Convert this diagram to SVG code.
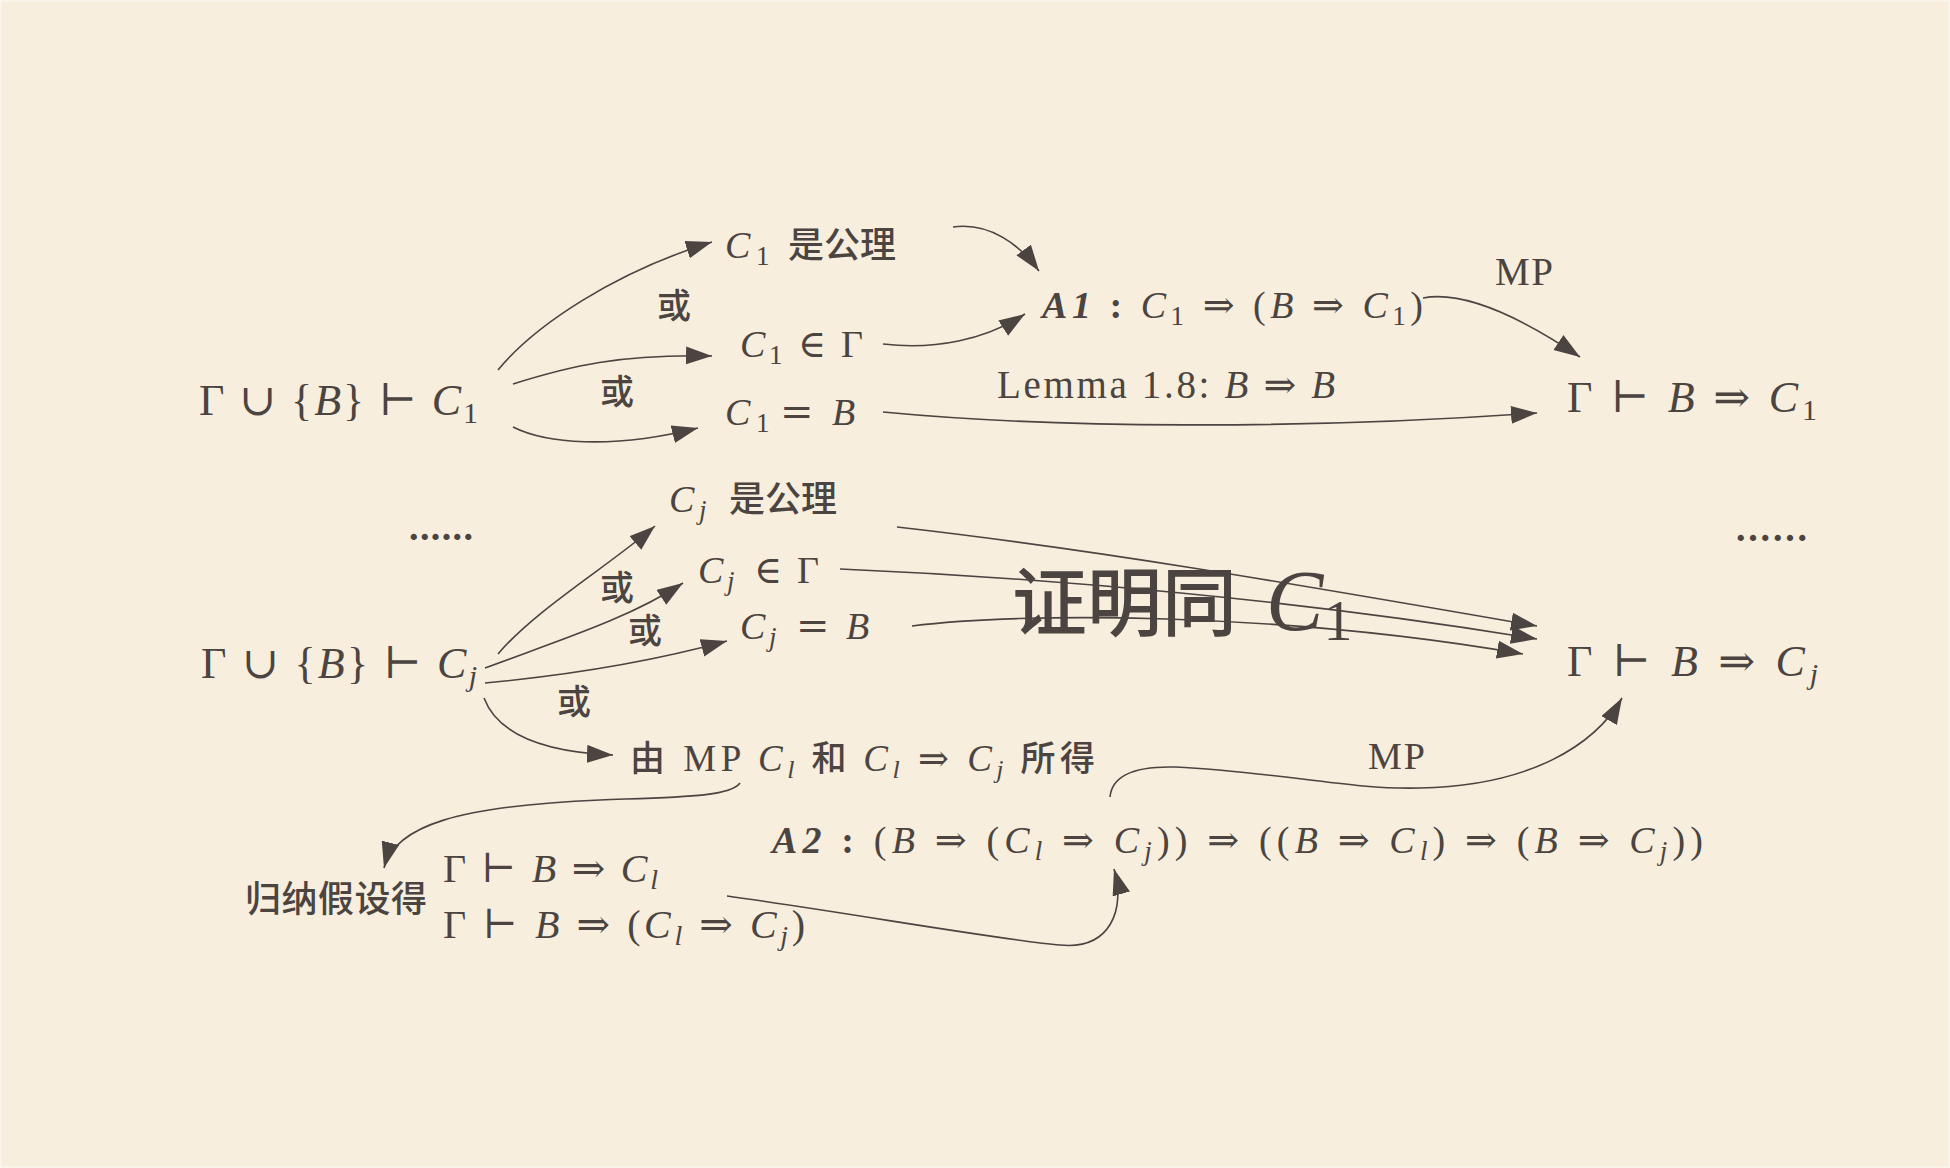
<svg xmlns="http://www.w3.org/2000/svg" width="1950" height="1168" viewBox="0 0 1950 1168">
<defs>
<style>
.t{font-family:"Liberation Serif","DejaVu Serif","Noto Sans CJK SC",serif;fill:#4b4441;}
.cj{font-family:"Noto Sans CJK SC",sans-serif;fill:#4b4441;font-weight:500;}
.o{font-family:"DejaVu Serif",serif;}
.i{font-style:italic;}
.b{font-weight:bold;}
.e{fill:none;stroke:#4b4441;stroke-width:1.6;marker-end:url(#ah);}
</style>
<marker id="ah" markerUnits="userSpaceOnUse" markerWidth="28" markerHeight="20" refX="26" refY="9" orient="auto">
<path d="M0,0 L26,9 L0,18 Z" fill="#4b4441"/>
</marker>
</defs>
<rect x="0" y="0" width="1950" height="1168" fill="#F7EEDD" stroke="#FBF6EC" stroke-width="3"/>

<g id="connectors">
<path class="e" d="M498,370 C535,325 615,272 712,242"/>
<path class="e" d="M513,384 C570,366 620,354 712,356"/>
<path class="e" d="M513,427 C545,443 610,450 698,428"/>
<path class="e" d="M953,227 C990,222 1020,245 1039,271"/>
<path class="e" d="M883,344 C935,350 985,340 1025,314"/>
<path class="e" d="M1423,298 C1465,290 1525,320 1580,357"/>
<path class="e" d="M883,412 C1050,428 1300,430 1537,413"/>
<path class="e" d="M498,654 C535,610 610,565 655,526"/>
<path class="e" d="M485,668 C560,640 630,618 683,583"/>
<path class="e" d="M485,683 C570,675 650,662 727,641"/>
<path class="e" d="M484,698 C498,735 545,752 613,755"/>
<path class="e" d="M897,527 C1100,550 1300,585 1537,626"/>
<path class="e" d="M840,569 C1050,578 1300,600 1537,639"/>
<path class="e" d="M912,626 C1020,612 1280,612 1523,654"/>
<path class="e" d="M740,783 C730,797 680,797 600,800 C460,806 395,825 384,868"/>
<path class="e" d="M727,896 C850,913 1000,940 1060,945 C1110,950 1126,910 1114,869"/>
<path class="e" d="M1110,797 C1112,775 1135,766 1175,767 C1280,772 1350,790 1420,788 C1530,786 1595,745 1622,698"/>
</g>

<g id="n-g1"><text class="t" x="199" y="415" font-size="44" textLength="279" lengthAdjust="spacing">Γ <tspan class="o">∪</tspan> {<tspan class="i">B</tspan>} <tspan class="o">⊢</tspan> <tspan class="i">C</tspan><tspan font-size="30" dy="8">1</tspan></text></g>
<g id="n-c1ax"><text class="t" y="258" font-size="38"><tspan class="i" x="725">C</tspan><tspan font-size="27" x="756" dy="7">1</tspan><tspan dy="-7" class="cj" font-size="36" x="788">是公理</tspan></text></g>
<g id="n-c1in"><text class="t" y="357" font-size="38"><tspan class="i" x="740">C</tspan><tspan font-size="27" x="769" dy="7">1</tspan><tspan dy="-7" class="o" x="798">∈</tspan><tspan x="841">Γ</tspan></text></g>
<g id="n-c1eq"><text class="t" y="425" font-size="38"><tspan class="i" x="725">C</tspan><tspan font-size="27" x="756" dy="7">1</tspan><tspan dy="-7" class="o" x="780" font-size="40">=</tspan><tspan class="i" x="832">B</tspan></text></g>
<g id="n-a1"><text class="t" x="1042" y="318" font-size="38" textLength="381" lengthAdjust="spacing"><tspan class="b i">A1</tspan><tspan class="b"> : </tspan><tspan class="i">C</tspan><tspan font-size="27" dy="7">1</tspan><tspan dy="-7"> </tspan><tspan class="o">⇒</tspan> (<tspan class="i">B</tspan> <tspan class="o">⇒</tspan> <tspan class="i">C</tspan><tspan font-size="27" dy="7">1</tspan><tspan dy="-7">)</tspan></text></g>
<g id="l-mp1"><text class="t" x="1495" y="285" font-size="39" textLength="58" lengthAdjust="spacing">MP</text></g>
<g id="l-lemma"><text class="t" x="997" y="398" font-size="39" textLength="338" lengthAdjust="spacing">Lemma 1.8: <tspan class="i">B</tspan> <tspan class="o">⇒</tspan> <tspan class="i">B</tspan></text></g>
<g id="n-r1"><text class="t" x="1567" y="412" font-size="44" textLength="250" lengthAdjust="spacing">Γ <tspan class="o">⊢</tspan> <tspan class="i">B</tspan> <tspan class="o">⇒</tspan> <tspan class="i">C</tspan><tspan font-size="30" dy="8">1</tspan></text></g>

<g id="l-or1"><text class="cj" x="657" y="318" font-size="34">或</text></g>
<g id="l-or2"><text class="cj" x="600" y="404" font-size="34">或</text></g>
<g id="l-or3"><text class="cj" x="600" y="600" font-size="34">或</text></g>
<g id="l-or4"><text class="cj" x="628" y="643" font-size="34">或</text></g>
<g id="l-or5"><text class="cj" x="557" y="714" font-size="34">或</text></g>

<g id="dots-l"><text class="t b" x="409" y="540" font-size="38" textLength="64" lengthAdjust="spacing">......</text></g>
<g id="dots-r"><text class="t b" x="1736" y="541" font-size="38" textLength="71" lengthAdjust="spacing">......</text></g>

<g id="n-cjax"><text class="t" y="512" font-size="38"><tspan class="i" x="669">C</tspan><tspan class="i" font-size="27" x="699" dy="7">j</tspan><tspan dy="-7" class="cj" font-size="36" x="729">是公理</tspan></text></g>
<g id="n-cjin"><text class="t" y="583" font-size="38"><tspan class="i" x="698">C</tspan><tspan class="i" font-size="27" x="727" dy="7">j</tspan><tspan dy="-7" class="o" x="754">∈</tspan><tspan x="797">Γ</tspan></text></g>
<g id="n-cjeq"><text class="t" y="639" font-size="38"><tspan class="i" x="740">C</tspan><tspan class="i" font-size="27" x="769" dy="7">j</tspan><tspan dy="-7" class="o" x="796" font-size="40">=</tspan><tspan class="i" x="846">B</tspan></text></g>
<g id="n-gj"><text class="t" x="201" y="678" font-size="44" textLength="276" lengthAdjust="spacing">Γ <tspan class="o">∪</tspan> {<tspan class="i">B</tspan>} <tspan class="o">⊢</tspan> <tspan class="i">C</tspan><tspan class="i" font-size="30" dy="8">j</tspan></text></g>
<g id="n-rj"><text class="t" x="1567" y="676" font-size="44" textLength="251" lengthAdjust="spacing">Γ <tspan class="o">⊢</tspan> <tspan class="i">B</tspan> <tspan class="o">⇒</tspan> <tspan class="i">C</tspan><tspan class="i" font-size="30" dy="8">j</tspan></text></g>

<g id="l-same"><text class="cj" x="1012" y="630" font-size="75">证明同<tspan class="t i" x="1266" font-size="86">C</tspan><tspan class="t" font-size="58" dy="10">1</tspan></text></g>

<g id="n-mp"><text class="t" x="630" y="771" font-size="37" textLength="465" lengthAdjust="spacing"><tspan class="cj" font-size="35">由</tspan> MP <tspan class="i">C</tspan><tspan class="i" font-size="26" dy="7">l</tspan><tspan dy="-7" class="cj" font-size="35"> 和 </tspan><tspan class="i">C</tspan><tspan class="i" font-size="26" dy="7">l</tspan><tspan dy="-7"> </tspan><tspan class="o">⇒</tspan> <tspan class="i">C</tspan><tspan class="i" font-size="26" dy="7">j</tspan><tspan dy="-7" class="cj" font-size="35"> 所得</tspan></text></g>
<g id="l-mp2"><text class="t" x="1368" y="769" font-size="38" textLength="57" lengthAdjust="spacing">MP</text></g>

<g id="n-a2"><text class="t" x="772" y="853" font-size="38" textLength="931" lengthAdjust="spacing"><tspan class="b i">A2</tspan><tspan class="b"> : </tspan>(<tspan class="i">B</tspan> <tspan class="o">⇒</tspan> (<tspan class="i">C</tspan><tspan class="i" font-size="27" dy="7">l</tspan><tspan dy="-7"> </tspan><tspan class="o">⇒</tspan> <tspan class="i">C</tspan><tspan class="i" font-size="27" dy="7">j</tspan><tspan dy="-7">)) </tspan><tspan class="o">⇒</tspan> ((<tspan class="i">B</tspan> <tspan class="o">⇒</tspan> <tspan class="i">C</tspan><tspan class="i" font-size="27" dy="7">l</tspan><tspan dy="-7">) </tspan><tspan class="o">⇒</tspan> (<tspan class="i">B</tspan> <tspan class="o">⇒</tspan> <tspan class="i">C</tspan><tspan class="i" font-size="27" dy="7">j</tspan><tspan dy="-7">))</tspan></text></g>

<g id="n-ih"><text class="cj" x="245" y="912" font-size="36" textLength="182" lengthAdjust="spacing">归纳假设得</text>
<text class="t" x="443" y="882" font-size="40" textLength="215" lengthAdjust="spacing">Γ <tspan class="o">⊢</tspan> <tspan class="i">B</tspan> <tspan class="o">⇒</tspan> <tspan class="i">C</tspan><tspan class="i" font-size="28" dy="7">l</tspan></text>
<text class="t" x="443" y="938" font-size="40" textLength="362" lengthAdjust="spacing">Γ <tspan class="o">⊢</tspan> <tspan class="i">B</tspan> <tspan class="o">⇒</tspan> (<tspan class="i">C</tspan><tspan class="i" font-size="28" dy="7">l</tspan><tspan dy="-7"> </tspan><tspan class="o">⇒</tspan> <tspan class="i">C</tspan><tspan class="i" font-size="28" dy="7">j</tspan><tspan dy="-7">)</tspan></text></g>
</svg>
